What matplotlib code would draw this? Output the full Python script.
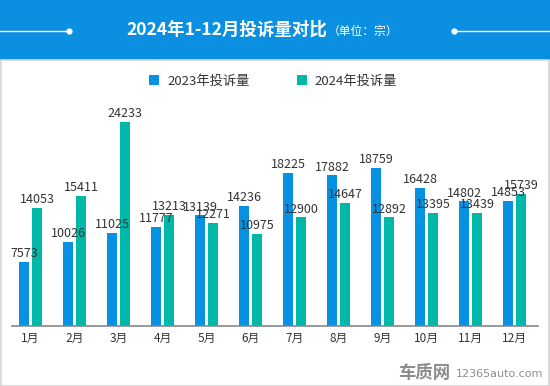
import matplotlib.pyplot as plt
import numpy as np
from matplotlib.patches import Rectangle
from matplotlib.lines import Line2D

plt.rcParams['font.family'] = ['Noto Sans CJK SC', 'DejaVu Sans']

months = ["1月", "2月", "3月", "4月", "5月", "6月", "7月", "8月", "9月", "10月", "11月", "12月"]
vals_2023 = [7573, 10026, 11025, 11777, 13139, 14236, 18225, 17882, 18759, 16428, 14802, 14853]
vals_2024 = [14053, 15411, 24233, 13213, 12271, 10975, 12900, 14647, 12892, 13395, 13439, 15739]
series_names = ["2023年投诉量", "2024年投诉量"]

blue = "#0791e3"
green = "#00b8a9"
W, H = 550, 386

fig = plt.figure(figsize=(5.5, 3.86), dpi=100)

# banner and frame
fig.patches.append(Rectangle((0, 1 - 60 / H), 1, 60 / H, transform=fig.transFigure,
                             facecolor="#0b8fe0", edgecolor="none", zorder=0))
fig.patches.append(Rectangle((0.5 / W, 0.5 / H), 1 - 1.5 / W, 1 - 60 / H, transform=fig.transFigure,
                             facecolor="none", edgecolor="#d4d4d4", linewidth=1.2, zorder=0))
fig.text(126 / W, 1 - 30 / H, "2024年1-12月投诉量对比", color="white", fontsize=12.6,
         fontweight="bold", ha="left", va="center")
fig.text(328 / W, 1 - 31 / H, "（单位：宗）", color="white", fontsize=8.5, ha="left", va="center")
fig.lines.append(Line2D([0, 69 / W], [1 - 30.5 / H] * 2, transform=fig.transFigure, color="white", lw=1))
fig.lines.append(Line2D([454 / W, 1], [1 - 30.5 / H] * 2, transform=fig.transFigure, color="white", lw=1))
fig.lines.append(Line2D([69 / W, 454 / W], [1 - 30.5 / H] * 2, transform=fig.transFigure, color="white",
                        lw=0, marker="o", markersize=3.5))

# plot area
ax = fig.add_axes([12 / W, (H - 326) / H, 526 / W, 266 / H])
x = np.arange(len(months))
bw = 0.227
off = 0.148
b1 = ax.bar(x - off, vals_2023, bw, color=blue, label=series_names[0], zorder=2)
b2 = ax.bar(x + off, vals_2024, bw, color=green, label=series_names[1], zorder=2)

for bars, vals in ((b1, vals_2023), (b2, vals_2024)):
    for rect, v in zip(bars, vals):
        ax.annotate(str(v), (rect.get_x() + rect.get_width() / 2, v), xytext=(0, 3.5),
                    textcoords="offset points", ha="center", va="baseline",
                    fontsize=9, color="#333333", zorder=3)

ax.set_xlim(-0.42, 11.53)
ax.set_ylim(0, 31600)
ax.set_xticks(x)
ax.set_xticklabels(months, fontsize=8.5, color="#333333")
ax.tick_params(axis="x", length=0, pad=4)
ax.set_yticks([])
for s in ["top", "right", "left"]:
    ax.spines[s].set_visible(False)
ax.spines["bottom"].set_color("#888888")
ax.spines["bottom"].set_linewidth(1.2)
ax.patch.set_alpha(0)

fig.legend(handles=[b1, b2], labels=series_names, loc="center", bbox_to_anchor=(0.497, 1 - 81 / H),
           ncol=2, frameon=False, fontsize=9.5, handlelength=0.75, handleheight=0.75,
           columnspacing=3.6, handletextpad=0.6, labelcolor="#333333")

# watermark
fig.text(424 / W, 1 - 373 / H, "车质网", color="#8c8c8c", fontsize=12.5, fontweight="bold",
         ha="center", va="center")
fig.text(500 / W, 1 - 374 / H, "12365auto.com", color="#8c8c8c", fontsize=8,
         ha="center", va="center", family=["DejaVu Sans"])

fig.savefig("out.png", dpi=100)
